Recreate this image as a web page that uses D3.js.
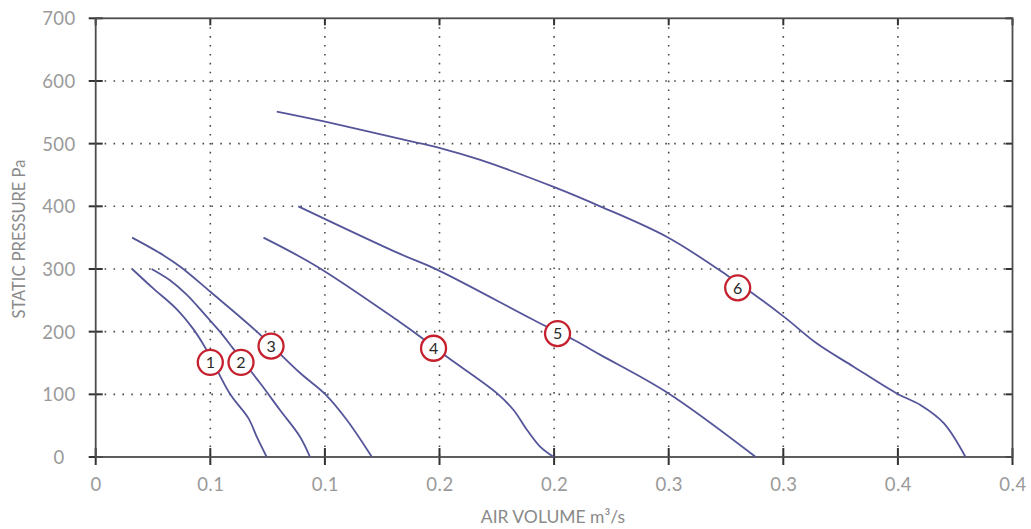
<!DOCTYPE html>
<html>
<head>
<meta charset="utf-8">
<script src="https://cdn.jsdelivr.net/npm/d3@7"></script>
<style>
  html, body { margin: 0; padding: 0; background: #fff; }
  svg { display: block; font-family: "Lato", "Noto Sans", sans-serif; }
</style>
</head>
<body>
<svg id="chart" width="1031" height="529"></svg>
<script>
// ---- data ----
const xTickValues = [0, 0.05, 0.1, 0.15, 0.2, 0.25, 0.3, 0.35, 0.4];
const xTickLabels = ["0", "0.1", "0.1", "0.2", "0.2", "0.3", "0.3", "0.4", "0.4"];
const yTickValues = [0, 100, 200, 300, 400, 500, 600, 700];
const yTickLabels = ["0", "100", "200", "300", "400", "500", "600", "700"];

const curve1 = [[0.0159,300],[0.0251,269],[0.0353,236],[0.0426,204],[0.0469,180],[0.0500,160],[0.0587,100],[0.0666,62],[0.0703,32],[0.0746,0]];
const curve2 = [[0.0244,300],[0.0324,282],[0.0397,259],[0.0484,224],[0.0542,200],[0.0600,173],[0.0717,118],[0.0804,75],[0.0892,32],[0.0935,0]];
const curve3 = [[0.0159,350],[0.0295,322],[0.0375,302],[0.0499,264],[0.0703,200],[0.0892,134],[0.1002,100],[0.1096,59],[0.1205,0]];
const curve4 = [[0.0732,350],[0.0965,304],[0.1328,215],[0.1416,192],[0.1532,160],[0.1750,102],[0.1823,75],[0.1882,43],[0.1940,16],[0.1998,0]];
const curve5 = [[0.0884,400],[0.1328,324],[0.1489,299],[0.1940,213],[0.2085,187],[0.2202,163],[0.2493,103],[0.2880,0]];
const curve6 = [[0.0790,551],[0.1001,535],[0.1386,503],[0.1503,493],[0.1678,474],[0.1998,431],[0.2201,400],[0.2493,351],[0.2754,290],[0.3002,224],[0.3147,181],[0.3307,144],[0.3497,101],[0.3598,83],[0.3700,54],[0.3795,0]];
const curves = [curve1, curve2, curve3, curve4, curve5, curve6];

const labelNames = ["1", "2", "3", "4", "5", "6"];
const labelX = [0.0500, 0.0634, 0.0765, 0.1474, 0.2015, 0.2801];
const labelY = [151, 151, 177, 173.5, 197, 270];

const xTitle = "AIR VOLUME m³/s";
const yTitle = "STATIC PRESSURE Pa";

// ---- layout ----
const svg = d3.select("#chart");
const mLeft = 95.7, mRight = 1012.5, mTop = 18.3, mBottom = 457;
const x = d3.scaleLinear().domain([0, 0.4]).range([mLeft, mRight]);
const y = d3.scaleLinear().domain([0, 700]).range([mBottom, mTop]);

const gridColor = "#4a4a4a";
const frameColor = "#4d4d4d";
const labelColor = "#9a9a9a";
const fontFam = "Lato, sans-serif";

// grid (dotted)
const grid = svg.append("g");
grid.selectAll("line.h").data(yTickValues.slice(1, -1)).enter().append("line")
  .attr("x1", mLeft).attr("x2", mRight)
  .attr("y1", d => y(d)).attr("y2", d => y(d))
  .attr("stroke", gridColor).attr("stroke-width", 1.6)
  .attr("stroke-dasharray", "1.6 7.3");
grid.selectAll("line.v").data(xTickValues.slice(1, -1)).enter().append("line")
  .attr("y1", mTop).attr("y2", mBottom)
  .attr("x1", d => x(d)).attr("x2", d => x(d))
  .attr("stroke", gridColor).attr("stroke-width", 1.6)
  .attr("stroke-dasharray", "1.6 7.3");

// axes
const xAxis = d3.axisBottom(x).tickValues(xTickValues)
  .tickFormat((d, i) => xTickLabels[i]).tickSize(0).tickPadding(21);
const gx = svg.append("g").attr("transform", `translate(0,${mBottom})`).call(xAxis);
gx.select(".domain").remove();
gx.selectAll("text").attr("fill", labelColor).attr("font-size", 18.5)
  .attr("font-family", fontFam).attr("letter-spacing", "0.5px");

const yAxis = d3.axisLeft(y).tickValues(yTickValues)
  .tickFormat((d, i) => yTickLabels[i]).tickSize(0).tickPadding(0);
const gy = svg.append("g").call(yAxis);
gy.select(".domain").remove();
gy.selectAll("text").attr("fill", labelColor).attr("font-size", 18.5)
  .attr("text-anchor", "middle").attr("x", 59).attr("dy", "0.35em")
  .attr("font-family", fontFam).attr("letter-spacing", "0.5px");

// tick marks
const ticks = svg.append("g").attr("stroke", "#333").attr("stroke-width", 2);
ticks.selectAll("line.bx").data(xTickValues).enter().append("line")
  .attr("x1", d => x(d)).attr("x2", d => x(d))
  .attr("y1", mBottom - 9).attr("y2", mBottom + 8);
ticks.selectAll("line.tx").data(xTickValues).enter().append("line")
  .attr("x1", d => x(d)).attr("x2", d => x(d))
  .attr("y1", mTop).attr("y2", mTop + 7);
ticks.selectAll("line.ly").data(yTickValues).enter().append("line")
  .attr("x1", mLeft - 7).attr("x2", mLeft + 7)
  .attr("y1", d => y(d)).attr("y2", d => y(d));
ticks.selectAll("line.ry").data(yTickValues).enter().append("line")
  .attr("x1", mRight - 7).attr("x2", mRight)
  .attr("y1", d => y(d)).attr("y2", d => y(d));

// frame
svg.append("rect")
  .attr("x", mLeft).attr("y", mTop)
  .attr("width", mRight - mLeft).attr("height", mBottom - mTop)
  .attr("fill", "none").attr("stroke", frameColor).attr("stroke-width", 1.8);

// curves
const line = d3.line().x(d => x(d[0])).y(d => y(d[1])).curve(d3.curveCatmullRom.alpha(0.5));
svg.append("g").selectAll("path").data(curves).enter().append("path")
  .attr("d", d => line(d))
  .attr("fill", "none").attr("stroke", "#55559a").attr("stroke-width", 1.8);

// labels
const lg = svg.append("g").selectAll("g").data(labelNames).enter().append("g")
  .attr("transform", (d, i) => `translate(${x(labelX[i])},${y(labelY[i])})`);
lg.append("circle").attr("r", 12.5).attr("fill", "#fff")
  .attr("stroke", "#c4202e").attr("stroke-width", 2.3);
lg.append("text").text(d => d).attr("text-anchor", "middle").attr("dy", "0.36em")
  .attr("font-size", 16).attr("fill", "#2a2a2a").attr("font-family", fontFam);

// titles
svg.append("text").attr("x", 553).attr("y", 523).attr("text-anchor", "middle")
  .attr("fill", "#8a8a8a").attr("font-size", 17.5).attr("font-family", fontFam)
  .text(xTitle);
svg.append("text").attr("transform", "translate(25,239) rotate(-90)")
  .attr("text-anchor", "middle").attr("fill", "#8a8a8a").attr("font-size", 16.5)
  .attr("font-family", fontFam).text(yTitle);
</script>
</body>
</html>
